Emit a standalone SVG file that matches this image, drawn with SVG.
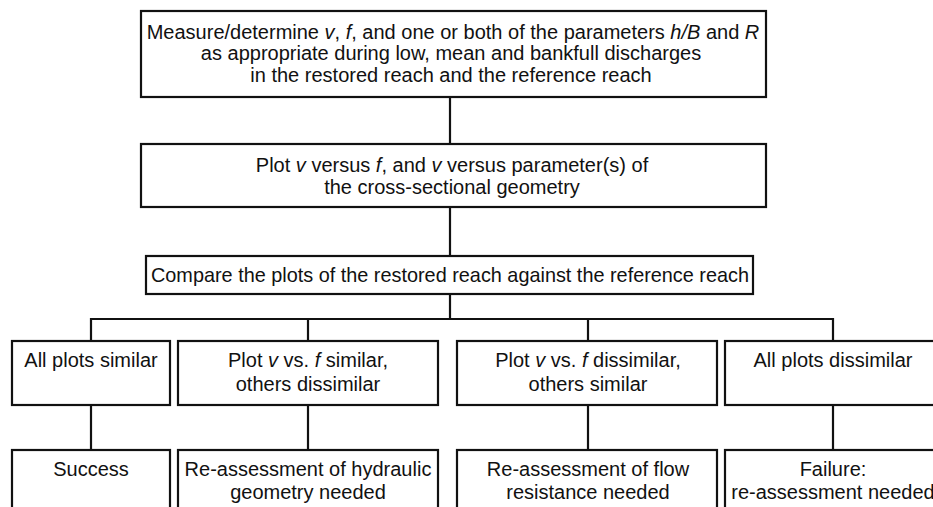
<svg xmlns="http://www.w3.org/2000/svg" width="933" height="507" viewBox="0 0 933 507">
<style>
.box{fill:#fff;stroke:#111;stroke-width:2.2}
.ln{fill:none;stroke:#111;stroke-width:2.2}
text{font-family:"Liberation Sans",Arial,Helvetica,sans-serif;font-size:20px;fill:#111}
.c{text-anchor:middle}
.i{font-style:italic}
</style>
<rect width="933" height="507" fill="#fff"/>
<g id="connectors">
<line class="ln" x1="450" y1="97" x2="450" y2="144"/>
<line class="ln" x1="450" y1="207" x2="450" y2="256"/>
<line class="ln" x1="450" y1="294" x2="450" y2="319"/>
<polyline class="ln" points="91,341 91,319 833,319 833,341"/>
<line class="ln" x1="308" y1="319" x2="308" y2="341"/>
<line class="ln" x1="588" y1="319" x2="588" y2="341"/>
<line class="ln" x1="91" y1="405" x2="91" y2="450"/>
<line class="ln" x1="308" y1="405" x2="308" y2="450"/>
<line class="ln" x1="588" y1="405" x2="588" y2="450"/>
<line class="ln" x1="833" y1="405" x2="833" y2="450"/>
</g>
<g id="n1">
<rect class="box" x="141" y="11" width="625" height="86"/>
<text class="c" x="453" y="39">Measure/determine <tspan class="i">v</tspan>, <tspan class="i">f</tspan>, and one or both of the parameters <tspan class="i">h/B</tspan> and <tspan class="i">R</tspan></text>
<text class="c" x="451" y="60">as appropriate during low, mean and bankfull discharges</text>
<text class="c" x="451" y="82">in the restored reach and the reference reach</text>
</g>
<g id="n2">
<rect class="box" x="141" y="144" width="625" height="63"/>
<text class="c" x="452" y="172">Plot <tspan class="i">v</tspan> versus <tspan class="i">f</tspan>, and <tspan class="i">v</tspan> versus parameter(s) of</text>
<text class="c" x="452" y="194">the cross-sectional geometry</text>
</g>
<g id="n3">
<rect class="box" x="146" y="256" width="607" height="38"/>
<text class="c" x="450" y="282" style="font-size:21px" textLength="598" lengthAdjust="spacingAndGlyphs">Compare the plots of the restored reach against the reference reach</text>
</g>
<g id="n4">
<rect class="box" x="12" y="341" width="158" height="64"/>
<text class="c" x="91" y="367">All plots similar</text>
</g>
<g id="n5">
<rect class="box" x="178" y="341" width="260" height="64"/>
<text class="c" x="308" y="367">Plot <tspan class="i">v</tspan> vs. <tspan class="i">f</tspan> similar,</text>
<text class="c" x="308" y="391">others dissimilar</text>
</g>
<g id="n6">
<rect class="box" x="457" y="341" width="260" height="64"/>
<text class="c" x="588" y="367">Plot <tspan class="i">v</tspan> vs. <tspan class="i">f</tspan> dissimilar,</text>
<text class="c" x="588" y="391">others similar</text>
</g>
<g id="n7">
<rect class="box" x="725" y="341" width="216" height="64"/>
<text class="c" x="833" y="367">All plots dissimilar</text>
</g>
<g id="n8">
<rect class="box" x="12" y="450" width="158" height="70"/>
<text class="c" x="91" y="476">Success</text>
</g>
<g id="n9">
<rect class="box" x="178" y="450" width="260" height="70"/>
<text class="c" x="308" y="476">Re-assessment of hydraulic</text>
<text class="c" x="308" y="499">geometry needed</text>
</g>
<g id="n10">
<rect class="box" x="457" y="450" width="260" height="70"/>
<text class="c" x="588" y="476">Re-assessment of flow</text>
<text class="c" x="588" y="499">resistance needed</text>
</g>
<g id="n11">
<rect class="box" x="725" y="450" width="216" height="70"/>
<text class="c" x="833" y="476">Failure:</text>
<text class="c" x="833" y="499">re-assessment needed</text>
</g>
</svg>
